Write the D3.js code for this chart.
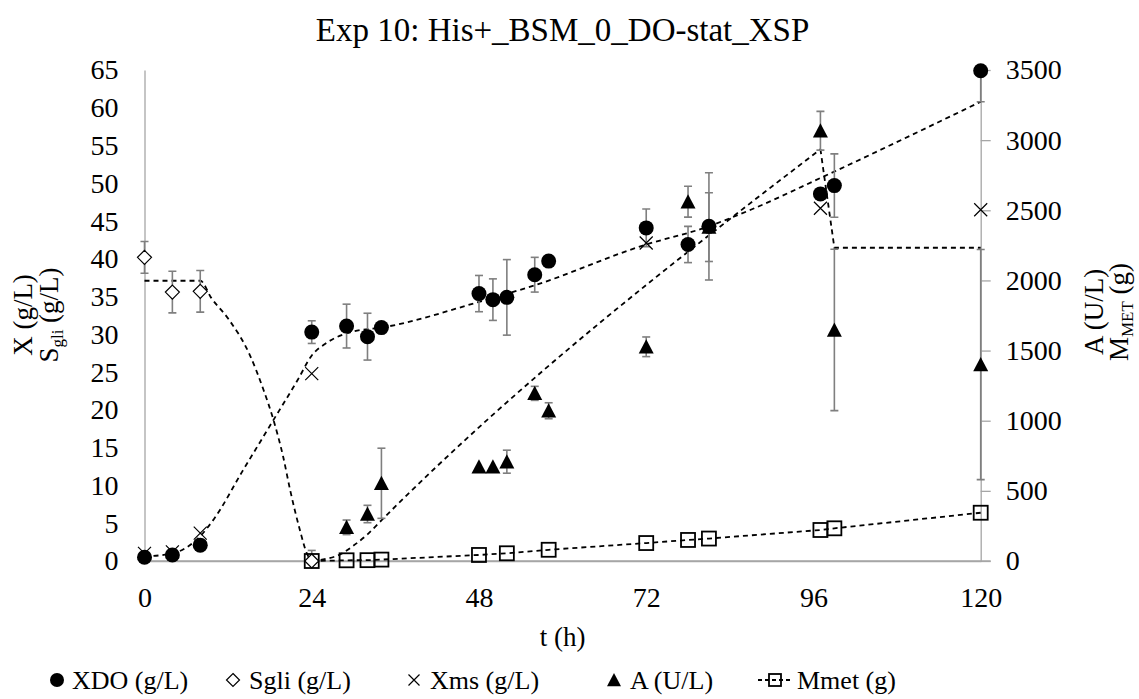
<!DOCTYPE html>
<html>
<head>
<meta charset="utf-8">
<script src="https://cdn.jsdelivr.net/npm/d3@7"></script>
<style>
  body { margin: 0; background: #fff; }
  svg { display: block; }
  text { font-family: "Liberation Serif", "Times New Roman", serif; fill: #000; }
</style>
</head>
<body>
<svg id="chart" width="1139" height="699" font-family="Liberation Serif, serif"></svg>
<script>
// ---- measured data ----
const timeXDO = [0, 4, 8, 24, 29, 32, 34, 48, 50, 52, 56, 58, 72, 78, 81, 97, 99, 120];
const valXDO  = [0.5, 0.8, 2.1, 30.3, 31.1, 29.7, 30.9, 35.4, 34.6, 34.9, 37.9, 39.7, 44.1, 41.9, 44.3, 48.6, 49.7, 64.9];
const errXDO  = [0, 0, 0, 1.5, 2.9, 3.1, 0, 2.4, 2.75, 5.0, 2.3, 0, 2.5, 2.4, 7.1, 0, 4.2, 4.1];

const timeSgli = [0, 4, 8, 24];
const valSgli  = [40.2, 35.6, 35.7, 0];
const errSgli  = [2.1, 2.75, 2.75, 1.4];

const timeXms = [0, 4, 8, 24, 72, 97, 120];
const valXms  = [1.0, 1.2, 3.7, 24.8, 42.1, 46.7, 46.5];

const timeA = [29, 32, 34, 48, 50, 52, 56, 58, 72, 78, 81, 97, 99, 120];
const valA  = [240, 335, 554, 672, 672, 708, 1195, 1071, 1527, 2561, 2380, 3067, 1647, 1400];
const errA  = [52, 62, 250, 0, 0, 82, 50, 57, 70, 110, 245, 138, 575, 820];

const timeMmet = [24, 29, 32, 34, 48, 52, 58, 72, 78, 81, 97, 99, 120];
const valMmet  = [0, 5, 6, 10, 43, 55, 80, 128, 150, 160, 221, 233, 344];

// ---- fitted model curves ----
const fitSgliT = [0, 8, 9.6, 12, 15.1, 17.1, 18.5, 19.9, 20.9, 22.3, 23.3, 24];
const fitSgliV = [37.1, 37.1, 34.8, 32.1, 27.3, 22.6, 18.7, 13.8, 9.4, 4.1, 1.0, 0];
const fitXT = [0, 4, 8, 10, 14, 18, 22, 24, 26, 28, 30, 34, 48, 56, 72, 80, 87, 97, 120];
const fitXV = [0.6, 1.0, 3.3, 5.6, 11.8, 17.9, 24.0, 27.2, 28.8, 29.8, 30.4, 30.9, 34.3, 36.5, 41.9, 44.0, 46.5, 50.7, 60.8];
const fitAT = [24, 26, 28, 30, 32, 34, 97, 99, 120];
const fitAV = [0, 15, 45, 110, 190, 290, 2935, 2233, 2233];

// ---- axis ticks ----
const xTicks = [0, 24, 48, 72, 96, 120];
const leftTicks = d3.range(0, 66, 5);
const rightTicks = d3.range(0, 3501, 500);

const FONT = '"Liberation Serif", "Times New Roman", serif';
const svg = d3.select("#chart");
const plot = { left: 144.5, right: 980.7, top: 70, bottom: 561 };
const gray = "#a6a6a6";
const errGray = "#7f7f7f";

const x  = d3.scaleLinear().domain([0, 120]).range([plot.left, plot.right]);
const yL = d3.scaleLinear().domain([0, 65]).range([plot.bottom, plot.top]);
const yR = d3.scaleLinear().domain([0, 3500]).range([plot.bottom, plot.top]);

svg.append("defs").append("clipPath").attr("id", "plotClip")
  .append("rect").attr("x", plot.left - 20).attr("y", plot.top)
  .attr("width", plot.right - plot.left + 40).attr("height", plot.bottom - plot.top);

// title
svg.append("text").attr("x", (plot.left + plot.right) / 2).attr("y", 41)
  .attr("text-anchor", "middle").style("font-family", FONT).style("font-size", "33px")
  .text("Exp 10: His+_BSM_0_DO-stat_XSP");

// axes
const fmt = d3.format("d");
const gLeft = svg.append("g").attr("transform", `translate(${plot.left},0)`)
  .call(d3.axisLeft(yL).tickValues(leftTicks).tickFormat(fmt).tickSize(0).tickSizeOuter(0).tickPadding(26));
const gRight = svg.append("g").attr("transform", `translate(${plot.right},0)`)
  .call(d3.axisRight(yR).tickValues(rightTicks).tickFormat(fmt).tickSize(10).tickSizeOuter(0).tickPadding(15));
const gBottom = svg.append("g").attr("transform", `translate(0,${plot.bottom})`)
  .call(d3.axisBottom(x).tickValues(xTicks).tickFormat(fmt).tickSize(0).tickSizeOuter(0).tickPadding(26));

[gLeft, gRight, gBottom].forEach(g => {
  g.attr("font-family", FONT).attr("font-size", 28);
  g.select(".domain").attr("stroke", gray).attr("stroke-width", 1.3);
  g.selectAll(".tick line").attr("stroke", gray).attr("stroke-width", 1.3);
  g.selectAll(".tick text").style("font-size", "28px").style("font-family", FONT).attr("fill", "#000");
});
// extend the baseline under the right-hand ticks
svg.append("line").attr("x1", plot.left).attr("x2", plot.right + 10)
  .attr("y1", plot.bottom).attr("y2", plot.bottom).attr("stroke", gray).attr("stroke-width", 1.3);

// axis titles
svg.append("text").attr("x", (plot.left + plot.right) / 2).attr("y", 646)
  .attr("text-anchor", "middle").style("font-family", FONT).style("font-size", "27px").text("t (h)");

function rotTitle(xb, yc, parts) {
  const t = svg.append("text").attr("transform", `translate(${xb},${yc}) rotate(-90)`)
    .attr("text-anchor", "middle").style("font-family", FONT).style("font-size", "27px");
  parts.forEach(p => {
    const s = t.append("tspan").text(p.t);
    if (p.sub) s.style("font-size", "17px").attr("dy", p.dy);
    else if (p.dy) s.attr("dy", p.dy);
  });
}
rotTitle(32, 315, [{ t: "X (g/L)" }]);
rotTitle(58, 315, [{ t: "S" }, { t: "gli", sub: true, dy: 5 }, { t: " (g/L)", dy: -5 }]);
rotTitle(1103, 312, [{ t: "A (U/L)" }]);
rotTitle(1128, 312, [{ t: "M" }, { t: "MET", sub: true, dy: 5 }, { t: " (g)", dy: -5 }]);

// model curves (dashed)
const dashed = g => g.attr("fill", "none").attr("stroke", "#000").attr("stroke-width", 1.8)
  .attr("stroke-dasharray", "5,4");
const lineL = d3.line().x(d => x(d[0])).y(d => yL(d[1])).curve(d3.curveMonotoneX);
const lineRlin = d3.line().x(d => x(d[0])).y(d => yR(d[1]));
const lineRsmooth = d3.line().x(d => x(d[0])).y(d => yR(d[1])).curve(d3.curveMonotoneX);

svg.append("path").datum(d3.zip(fitSgliT, fitSgliV)).attr("d", lineL).call(dashed);
svg.append("path").datum(d3.zip(fitXT, fitXV)).attr("d", lineL).call(dashed);
svg.append("path").datum(d3.zip(fitAT.slice(0, 7), fitAV.slice(0, 7))).attr("d", lineRsmooth).call(dashed);
svg.append("path").datum(d3.zip(fitAT.slice(6), fitAV.slice(6))).attr("d", lineRlin).call(dashed);
svg.append("path").datum(d3.zip(timeMmet, valMmet)).attr("d", lineRlin).call(dashed);

// error bars
const gErr = svg.append("g").attr("clip-path", "url(#plotClip)");
function errorBars(ts, vs, es, y) {
  ts.forEach((t, i) => {
    if (!es[i]) return;
    const cx = x(t), y1 = y(vs[i] + es[i]), y2 = y(vs[i] - es[i]);
    gErr.append("line").attr("x1", cx).attr("x2", cx).attr("y1", y1).attr("y2", y2)
      .attr("stroke", errGray).attr("stroke-width", 1.6);
    [y1, y2].forEach(yy => gErr.append("line").attr("x1", cx - 4).attr("x2", cx + 4)
      .attr("y1", yy).attr("y2", yy).attr("stroke", errGray).attr("stroke-width", 1.6));
  });
}
errorBars(timeSgli, valSgli, errSgli, yL);
errorBars(timeXDO, valXDO, errXDO, yL);
errorBars(timeA, valA, errA, yR);

// marker shapes
const sym = {
  circle: (g, cx, cy, r = 7.5) => g.append("circle").attr("cx", cx).attr("cy", cy).attr("r", r).attr("fill", "#000"),
  diamond: (g, cx, cy, s = 7) => g.append("path")
    .attr("d", `M${cx},${cy - s}L${cx + s},${cy}L${cx},${cy + s}L${cx - s},${cy}Z`)
    .attr("fill", "#fff").attr("stroke", "#000").attr("stroke-width", 1.2),
  cross: (g, cx, cy, s = 6.5) => g.append("path")
    .attr("d", `M${cx - s},${cy - s}L${cx + s},${cy + s}M${cx - s},${cy + s}L${cx + s},${cy - s}`)
    .attr("stroke", "#000").attr("stroke-width", 1.2).attr("fill", "none"),
  triangle: (g, cx, cy, s = 7.5) => g.append("path")
    .attr("d", `M${cx},${cy - s}L${cx + s},${cy + s * 0.9}L${cx - s},${cy + s * 0.9}Z`).attr("fill", "#000"),
  square: (g, cx, cy, s = 7) => g.append("rect").attr("x", cx - s).attr("y", cy - s)
    .attr("width", 2 * s).attr("height", 2 * s).attr("fill", "none").attr("stroke", "#000").attr("stroke-width", 1.8)
};

const gM = svg.append("g");
timeXms.forEach((t, i) => sym.cross(gM, x(t), yL(valXms[i])));
timeXDO.forEach((t, i) => sym.circle(gM, x(t), yL(valXDO[i])));
timeSgli.forEach((t, i) => sym.diamond(gM, x(t), yL(valSgli[i])));
timeA.forEach((t, i) => sym.triangle(gM, x(t), yR(valA[i])));
timeMmet.forEach((t, i) => sym.square(gM, x(t), yR(valMmet[i])));

// legend
const legendY = 680;
const gLeg = svg.append("g");
const legendItems = [
  { label: "XDO (g/L)", cx: 57, tx: 72, draw: (g, cx) => sym.circle(g, cx, legendY, 7) },
  { label: "Sgli (g/L)", cx: 233, tx: 249, draw: (g, cx) => sym.diamond(g, cx, legendY, 6.5) },
  { label: "Xms (g/L)", cx: 414, tx: 430, draw: (g, cx) => sym.cross(g, cx, legendY, 5.5) },
  { label: "A (U/L)", cx: 614, tx: 630, draw: (g, cx) => sym.triangle(g, cx, legendY, 7) },
  { label: "Mmet (g)", cx: 775, tx: 797, draw: (g, cx) => {
      g.append("line").attr("x1", cx - 17).attr("x2", cx + 17).attr("y1", legendY).attr("y2", legendY)
        .call(dashed).attr("stroke-dasharray", "4,3");
      sym.square(g, cx, legendY, 6);
    } }
];
legendItems.forEach(it => {
  it.draw(gLeg, it.cx);
  gLeg.append("text").attr("x", it.tx).attr("y", legendY + 9)
    .style("font-family", FONT).style("font-size", "26px").text(it.label);
});
</script>
</body>
</html>
